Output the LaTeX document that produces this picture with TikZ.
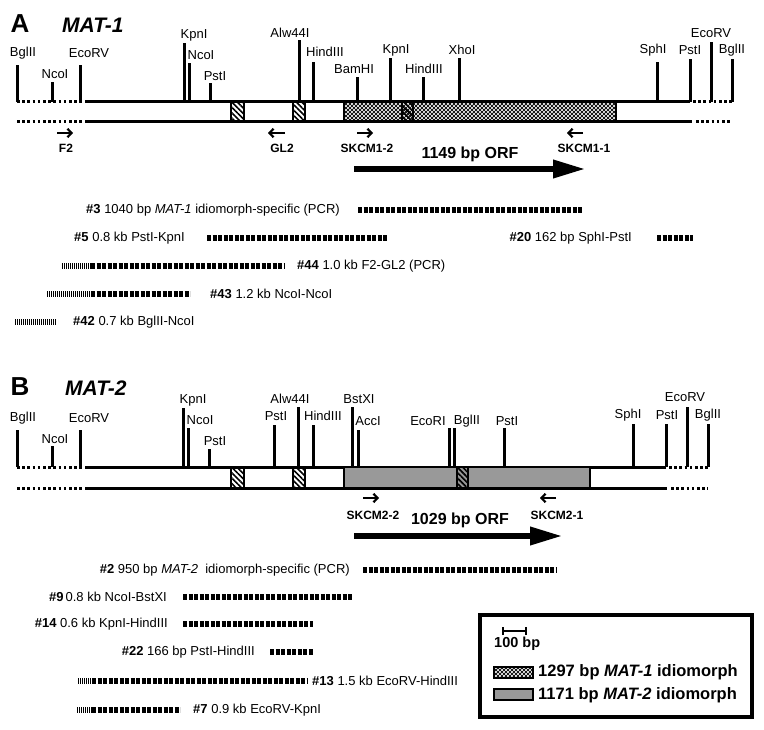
\documentclass[tikz,border=0pt]{standalone}
\usepackage{fontspec}
\setmainfont{Liberation Sans}
\usetikzlibrary{arrows.meta,patterns,patterns.meta}

% dotted fill for the idiomorph of MAT-1
\pgfdeclarepatternformonly{stipple}{\pgfqpoint{-1.5pt}{-1.5pt}}{\pgfqpoint{3.5pt}{3.5pt}}{\pgfqpoint{4pt}{4pt}}{
  \pgfpathcircle{\pgfqpoint{0pt}{0pt}}{1.4pt}
  \pgfpathcircle{\pgfqpoint{2pt}{2pt}}{1.4pt}
  \pgfusepath{fill}}

\tikzset{
  strand/.style = {line width=3pt},
  gapline/.style = {line width=3pt, dash pattern=on 2.6pt off 2.6pt},
  site/.style = {line width=3pt},
  sitelabel/.style = {font=\fontsize{13}{14}\selectfont, inner sep=0pt},
  boxline/.style = {line width=2.6pt},
  hatchbox/.style = {boxline, pattern={Lines[angle=-45,distance=3.8pt,line width=1.6pt]}},
  primer/.style = {line width=2.2pt, -{Straight Barb[length=4pt,width=8.5pt]}},
  primerlabel/.style = {font=\bfseries\fontsize{12}{14}\selectfont, inner sep=0pt},
  orf/.style = {line width=6.5pt, -{Triangle[length=33pt,width=17pt]}},
  orflabel/.style = {font=\bfseries\fontsize{16}{18}\selectfont, inner sep=0pt},
  frag/.style = {line width=5.5pt, dash pattern=on 4pt off 1.5pt},
  fragthin/.style = {line width=5.5pt, dash pattern=on 1pt off 1pt},
  fraglabel/.style = {font=\fontsize{13}{15}\selectfont, inner sep=0pt},
  panel/.style = {font=\bfseries\fontsize{26}{28}\selectfont, inner sep=0pt},
  locus/.style = {font=\bfseries\itshape\fontsize{21}{24}\selectfont, inner sep=0pt, anchor=west},
  keylabel/.style = {font=\bfseries\fontsize{16.5}{18}\selectfont, inner sep=0pt, anchor=west},
}

\begin{document}
\begin{tikzpicture}[x=1pt, y=-1pt]
\useasboundingbox (0,0) rectangle (764,730);

%%% A: MAT-1
\node[panel] (panelA) at (20,24) {A};
\node[locus] (locusA) at (62,25) {MAT-1};
% strands
\draw[gapline] (17,102) -- (82,102);
\draw[gapline] (17,122) -- (82,122);
\draw[strand] (85,102) -- (690,102);
\draw[strand] (85,122) -- (692,122);
\draw[gapline] (693,102) -- (732,102);
\draw[gapline] (696,122) -- (732,122);
% idiomorph
\draw[boxline, pattern=stipple] (344,102) rectangle (616,122);
\foreach \a/\b in {231/244, 293/305, 402/413}
  \draw[hatchbox] (\a,102) rectangle (\b,122);
% restriction sites
\foreach \x/\t/\lx/\ly/\s [count=\i] in {17/65/23/53/BglII, 52/82/55/74/NcoI, 80/65/89/53/EcoRV,
    184/43/194/35/KpnI, 189/63/201/55/NcoI, 210/83/215/76/PstI, 299/40/290/33/Alw44I,
    313/62/325/52/HindIII, 357/77/354/69/BamHI, 390/58/396/50/KpnI, 423/77/424/69/HindIII,
    459/58/462/50/XhoI, 657/62/653/50/SphI, 690/59/690/50/PstI, 711/42/711/33/EcoRV,
    732/59/732/50/BglII}{
  \draw[site] (\x,102) -- (\x,\t);
  \node[sitelabel] (siteA\i) at (\lx,\ly) {\s};
}
% primers
\coordinate (fA) at (57,133);  \coordinate (fB) at (73,133);
\draw[primer] (fA) -- (fB);
\node[primerlabel] (F2) at (66,148) {F2};
\coordinate (gA) at (285,133); \coordinate (gB) at (268,133);
\draw[primer] (gA) -- (gB);
\node[primerlabel] (GL2) at (282,148) {GL2};
\coordinate (sA) at (357,133); \coordinate (sB) at (373,133);
\draw[primer] (sA) -- (sB);
\node[primerlabel] (SKCM12) at (367,148) {SKCM1-2};
\coordinate (tA) at (583,133); \coordinate (tB) at (567,133);
\draw[primer] (tA) -- (tB);
\node[primerlabel] (SKCM11) at (584,148) {SKCM1-1};
% ORF
\node[orflabel] (orfA) at (470,154) {1149 bp ORF};
\coordinate (oA) at (354,169); \coordinate (oB) at (586,169);
\draw[orf] (oA) -- (oB);
% probes
\draw[frag] (358,210) -- (583,210);
\node[fraglabel, anchor=east] (p3) at (340,210) {\textbf{\#3} 1040 bp \textit{MAT-1} idiomorph-specific (PCR)};
\draw[frag] (207,238) -- (388,238);
\node[fraglabel, anchor=east] (p5) at (185,238) {\textbf{\#5} 0.8 kb PstI-KpnI};
\draw[frag] (657,238) -- (693,238);
\node[fraglabel, anchor=east] (p20) at (632,238) {\textbf{\#20} 162 bp SphI-PstI};
\draw[fragthin] (62,266) -- (91,266);
\draw[frag] (91,266) -- (285,266);
\node[fraglabel, anchor=west] (p44) at (297,266) {\textbf{\#44} 1.0 kb F2-GL2 (PCR)};
\draw[fragthin] (47,294) -- (91,294);
\draw[frag] (91,294) -- (190,294);
\node[fraglabel, anchor=west] (p43) at (210,294) {\textbf{\#43} 1.2 kb NcoI-NcoI};
\draw[fragthin] (15,322) -- (57,322);
\node[fraglabel, anchor=west] (p42) at (73,322) {\textbf{\#42} 0.7 kb BglII-NcoI};

%%% B: MAT-2
\node[panel] (panelB) at (20,387) {B};
\node[locus] (locusB) at (65,388) {MAT-2};
% strands
\draw[gapline] (17,467) -- (82,467);
\draw[gapline] (17,488) -- (82,488);
\draw[strand] (85,467) -- (666,467);
\draw[strand] (85,488) -- (667,488);
\draw[gapline] (669,467) -- (708,467);
\draw[gapline] (671,488) -- (708,488);
% idiomorph
\draw[boxline, fill=black!40] (344,467) rectangle (590,488);
\foreach \a/\b in {231/244, 293/305, 457/468}
  \draw[hatchbox] (\a,467) rectangle (\b,488);
% restriction sites
\foreach \x/\t/\lx/\ly/\s [count=\i] in {17/430/23/418/BglII, 52/446/55/439/NcoI, 80/430/89/418/EcoRV,
    183/408/193/400/KpnI, 188/428/200/420/NcoI, 209/449/215/441/PstI, 274/425/276/416/PstI,
    298/407/290/399/Alw44I, 313/425/323/416/HindIII, 352/407/359/399/BstXI, 358/430/368/421/AccI,
    449/428/428/421/EcoRI, 454/428/467/421/BglII, 504/428/507/421/PstI, 633/424/628/415/SphI,
    666/424/667/415/PstI, 687/407/685/397/EcoRV, 708/424/708/415/BglII}{
  \draw[site] (\x,467) -- (\x,\t);
  \node[sitelabel] (siteB\i) at (\lx,\ly) {\s};
}
% primers
\coordinate (uA) at (363,498); \coordinate (uB) at (379,498);
\draw[primer] (uA) -- (uB);
\node[primerlabel] (SKCM22) at (373,515) {SKCM2-2};
\coordinate (vA) at (556,498); \coordinate (vB) at (540,498);
\draw[primer] (vA) -- (vB);
\node[primerlabel] (SKCM21) at (557,515) {SKCM2-1};
% ORF
\node[orflabel] (orfB) at (460,520) {1029 bp ORF};
\coordinate (wA) at (354,536); \coordinate (wB) at (563,536);
\draw[orf] (wA) -- (wB);
% probes
\draw[frag] (363,570) -- (557,570);
\node[fraglabel, anchor=east] (p2) at (350,570) {\textbf{\#2} 950 bp \textit{MAT-2}\ \ idiomorph-specific (PCR)};
\draw[frag] (183,597) -- (353,597);
\node[fraglabel, anchor=east] (p9) at (167,597) {\textbf{\#9}\,0.8 kb NcoI-BstXI};
\draw[frag] (183,624) -- (313,624);
\node[fraglabel, anchor=east] (p14) at (168,624) {\textbf{\#14} 0.6 kb KpnI-HindIII};
\draw[frag] (270,652) -- (313,652);
\node[fraglabel, anchor=east] (p22) at (255,652) {\textbf{\#22} 166 bp PstI-HindIII};
\draw[fragthin] (78,681) -- (92,681);
\draw[frag] (92,681) -- (308,681);
\node[fraglabel, anchor=west] (p13) at (312,681) {\textbf{\#13} 1.5 kb EcoRV-HindIII};
\draw[fragthin] (77,710) -- (92,710);
\draw[frag] (92,710) -- (180,710);
\node[fraglabel, anchor=west] (p7) at (193,710) {\textbf{\#7} 0.9 kb EcoRV-KpnI};

%%% legend
\draw[line width=3.5pt] (480,615) rectangle (752,717);
\coordinate (barA) at (502,631); \coordinate (barB) at (527,631);
\draw[line width=2.4pt, {Bar[width=8pt]}-{Bar[width=8pt]}] (barA) -- (barB);
\node[font=\bfseries\fontsize{14.5}{16}\selectfont, inner sep=0pt, anchor=west] (scale) at (494,644) {100 bp};
\draw[boxline, pattern=stipple] (494,667) rectangle (533,678);
\node[keylabel] (keyA) at (538,672) {1297 bp \textit{MAT-1} idiomorph};
\draw[boxline, fill=black!40] (494,689) rectangle (533,700);
\node[keylabel] (keyB) at (538,695) {1171 bp \textit{MAT-2} idiomorph};
\end{tikzpicture}
\end{document}
